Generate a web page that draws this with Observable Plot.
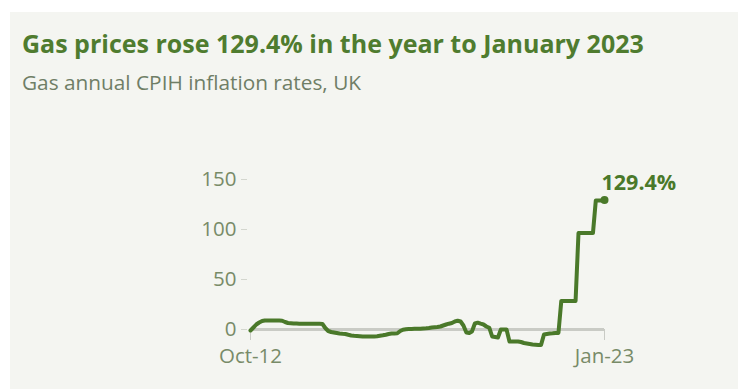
<!DOCTYPE html>
<html><head><meta charset="utf-8">
<script src="https://cdn.jsdelivr.net/npm/d3@7"></script>
<script src="https://cdn.jsdelivr.net/npm/@observablehq/plot@0.6"></script>
<style>
html,body{margin:0;padding:0;background:#fff;width:738px;height:389px;overflow:hidden;font-family:"Open Sans",sans-serif}
#panel{position:absolute;left:10px;top:12px;width:728px;height:377px;background:#f4f5f1}
#title{position:absolute;left:22px;top:31px;font-size:25px;line-height:25px;font-weight:700;color:#4f7c2f;white-space:nowrap}
#subtitle{position:absolute;left:22px;top:71.5px;font-size:20.8px;line-height:20.8px;font-weight:400;color:#6f7e66;white-space:nowrap}
#chart{position:absolute;left:0;top:110px}
</style></head><body>
<div id="panel"></div>
<div id="title"></div>
<div id="subtitle"></div>
<div id="chart"></div>
<script>
const titleText = "Gas prices rose 129.4% in the year to January 2023";
const subtitleText = "Gas annual CPIH inflation rates, UK";
const annotationText = "129.4%";
const startMonth = "2012-10-01";
const endMonth = "2023-01-01";
// Gas annual CPIH inflation rate (%), monthly Oct 2012 .. Jan 2023
const gasRate = [
  -1, 2, 5, 7, 8.5, 9, 9, 9, 9, 9, 9, 8.8,
  7.5, 6.5, 6.3, 6, 6, 5.8, 5.8, 5.7, 5.7, 5.7, 5.7, 5.7,
  5.7, 5.5, 1.5, -1.5, -2.5, -3, -3.5, -4, -4.3, -4.5, -5.3, -6,
  -6.3, -6.5, -6.7, -7, -7, -7, -7, -7, -6.8, -6.3, -5.8, -5.2,
  -4.5, -4, -4, -3.8, -1.5, -0.3, 0.2, 0.5, 0.6, 0.7, 0.8, 0.8,
  1, 1.2, 1.5, 2, 2.3, 2.5, 3, 4, 5, 5.8, 6.5, 8,
  8.8, 8, 4, -3, -3.5, -2, 6, 6.8, 5.8, 5, 3, 1.7,
  -7, -7.5, -8, 0, 0, 0, -12, -12, -12, -12, -12.5, -13.5,
  -14, -14.5, -15, -15.2, -15.4, -15.4, -5, -4.5, -4, -3.8, -3.5, -3.4,
  28.5, 28.5, 28.5, 28.5, 28.5, 28.5, 96.5, 96.5, 96.5, 96.5, 96.5, 96.5,
  129, 129, 129, 129.4
];
const yTicks = [0, 50, 100, 150];
const xTickMonths = ["2012-10-01", "2023-01-01"];
const xTickLabels = ["Oct-12", "Jan-23"];

document.getElementById("title").textContent = titleText;
document.getElementById("subtitle").textContent = subtitleText;

const start = new Date(startMonth + "T00:00:00Z");
const end = new Date(endMonth + "T00:00:00Z");
const data = gasRate.map((v, i) => ({date: d3.utcMonth.offset(start, i), value: v}));
const last = data[data.length - 1];
const xTickDates = xTickMonths.map(s => new Date(s + "T00:00:00Z"));

const green = "#4a792a";
const axisText = "#788b68";

const chart = Plot.plot({
  width: 738,
  height: 279,
  marginLeft: 250,
  marginRight: 134,
  marginTop: 69,
  marginBottom: 60,
  style: {fontFamily: "Open Sans", fontSize: "20.5px", background: "transparent", overflow: "visible"},
  x: {type: "utc", domain: [start, end]},
  y: {domain: [0, 150]},
  marks: [
    Plot.ruleY([0], {stroke: "#c9cbc5", strokeWidth: 3}),
    Plot.axisY(yTicks, {tickSize: 6, tickPadding: 5, dx: -3, stroke: "#d3d6ce", fill: axisText, label: null}),
    Plot.axisX(xTickDates, {tickSize: 11, tickPadding: 8, stroke: "#c9cbc5", fill: axisText, label: null,
      tickFormat: d => xTickLabels[xTickDates.findIndex(t => +t === +d)]}),
    Plot.line(data, {x: "date", y: "value", stroke: green, strokeWidth: 4, strokeLinejoin: "round", strokeLinecap: "round"}),
    Plot.dot([last], {x: "date", y: "value", r: 4, fill: green}),
    Plot.text([last], {x: "date", y: "value", text: () => annotationText, textAnchor: "start", dx: -3, dy: -17,
      fontWeight: "bold", fontSize: 21.5, fill: green})
  ]
});
document.getElementById("chart").appendChild(chart);
</script>
</body></html>
